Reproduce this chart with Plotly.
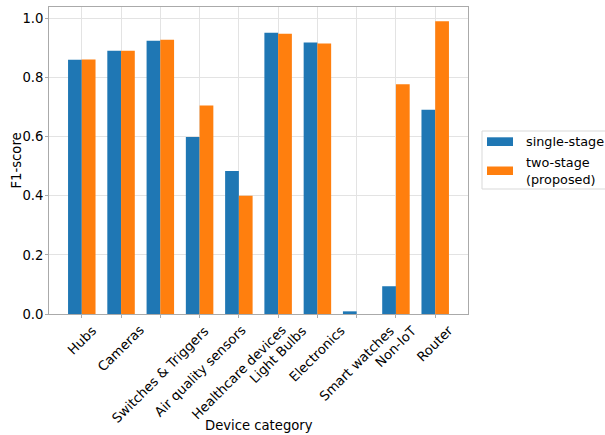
import plotly.graph_objects as go

categories = ["Hubs", "Cameras", "Switches & Triggers", "Air quality sensors",
              "Healthcare devices", "Light Bulbs", "Electronics", "Smart watches",
              "Non-IoT", "Router"]
single_stage = [0.861, 0.891, 0.925, 0.599, 0.484, 0.952, 0.919, 0.009, 0.094, 0.692]
two_stage = [0.862, 0.891, 0.929, 0.706, 0.400, 0.949, 0.916, 0.0, 0.778, 0.991]
series_names = ["single-stage", "two-stage<br>(proposed)"]
y_ticks = [0.0, 0.2, 0.4, 0.6, 0.8, 1.0]

BLUE = "#1f77b4"
ORANGE = "#ff7f0e"
FONT = dict(family="DejaVu Sans", size=13.2, color="black")
LFONT = dict(family="DejaVu Sans", size=12.8, color="black")

W, H = 605, 435
L, R, T, B = 49, 137, 7, 121
PW, PH = W - L - R, H - T - B


def px(x):
    return (x - L) / PW


def py(y):
    return (H - B - y) / PH


fig = go.Figure()
fig.add_trace(go.Bar(x=categories, y=single_stage, marker=dict(color=BLUE, line=dict(width=0)),
                     name="single-stage", showlegend=False))
fig.add_trace(go.Bar(x=categories, y=two_stage, marker=dict(color=ORANGE, line=dict(width=0)),
                     name="two-stage (proposed)", showlegend=False))

annotations = []
for c in categories:
    annotations.append(dict(x=c, xref="x", y=0, yref="paper", yshift=-6,
                            text=c, showarrow=False, textangle=-45,
                            xanchor="center", yanchor="top", font=FONT))
annotations.append(dict(x=0.5, xref="paper", y=py(425.5), yref="paper",
                        text="Device category", showarrow=False,
                        xanchor="center", yanchor="middle", font=FONT))
annotations.append(dict(x=px(16), xref="paper", y=0.5, yref="paper",
                        text="F1-score", showarrow=False, textangle=-90,
                        xanchor="center", yanchor="middle", font=FONT))
# legend text
annotations.append(dict(x=px(524), xref="paper", y=py(141.5), yref="paper",
                        text=series_names[0], showarrow=False,
                        xanchor="left", yanchor="middle", align="left", font=LFONT))
annotations.append(dict(x=px(524), xref="paper", y=py(171), yref="paper",
                        text=series_names[1], showarrow=False,
                        xanchor="left", yanchor="middle", align="left", font=LFONT))

shapes = [
    dict(type="rect", xref="paper", yref="paper", x0=px(482), x1=px(640),
         y0=py(189), y1=py(131), line=dict(color="#d9d9d9", width=1), fillcolor="white", layer="above"),
    dict(type="rect", xref="paper", yref="paper", x0=px(487), x1=px(513),
         y0=py(146), y1=py(137.3), line=dict(width=0), fillcolor=BLUE, layer="above"),
    dict(type="rect", xref="paper", yref="paper", x0=px(487), x1=px(513),
         y0=py(175), y1=py(166.5), line=dict(width=0), fillcolor=ORANGE, layer="above"),
]

fig.update_layout(
    width=W, height=H,
    margin=dict(l=L, r=R, t=T, b=B, pad=0, autoexpand=False),
    paper_bgcolor="white", plot_bgcolor="white",
    font=FONT,
    barmode="group", bargap=0.3, bargroupgap=0,
    showlegend=False,
    annotations=annotations,
    shapes=shapes,
)
fig.update_xaxes(type="category", range=[-0.835, 9.835], showticklabels=False,
                 ticks="outside", ticklen=3, tickcolor="#aaaaaa",
                 showgrid=True, gridcolor="#e3e3e3", gridwidth=1,
                 showline=True, linecolor="#aaaaaa", linewidth=1, mirror=True,
                 zeroline=False, automargin=False)
fig.update_yaxes(range=[0, 1.0395], tickvals=y_ticks, tickformat=".1f",
                 ticks="outside", ticklen=3, tickcolor="#aaaaaa",
                 showgrid=True, gridcolor="#e3e3e3", gridwidth=1,
                 showline=True, linecolor="#aaaaaa", linewidth=1, mirror=True,
                 zeroline=False, automargin=False, tickfont=FONT,
                 ticklabelstandoff=-1)

fig.write_html("out.html")
